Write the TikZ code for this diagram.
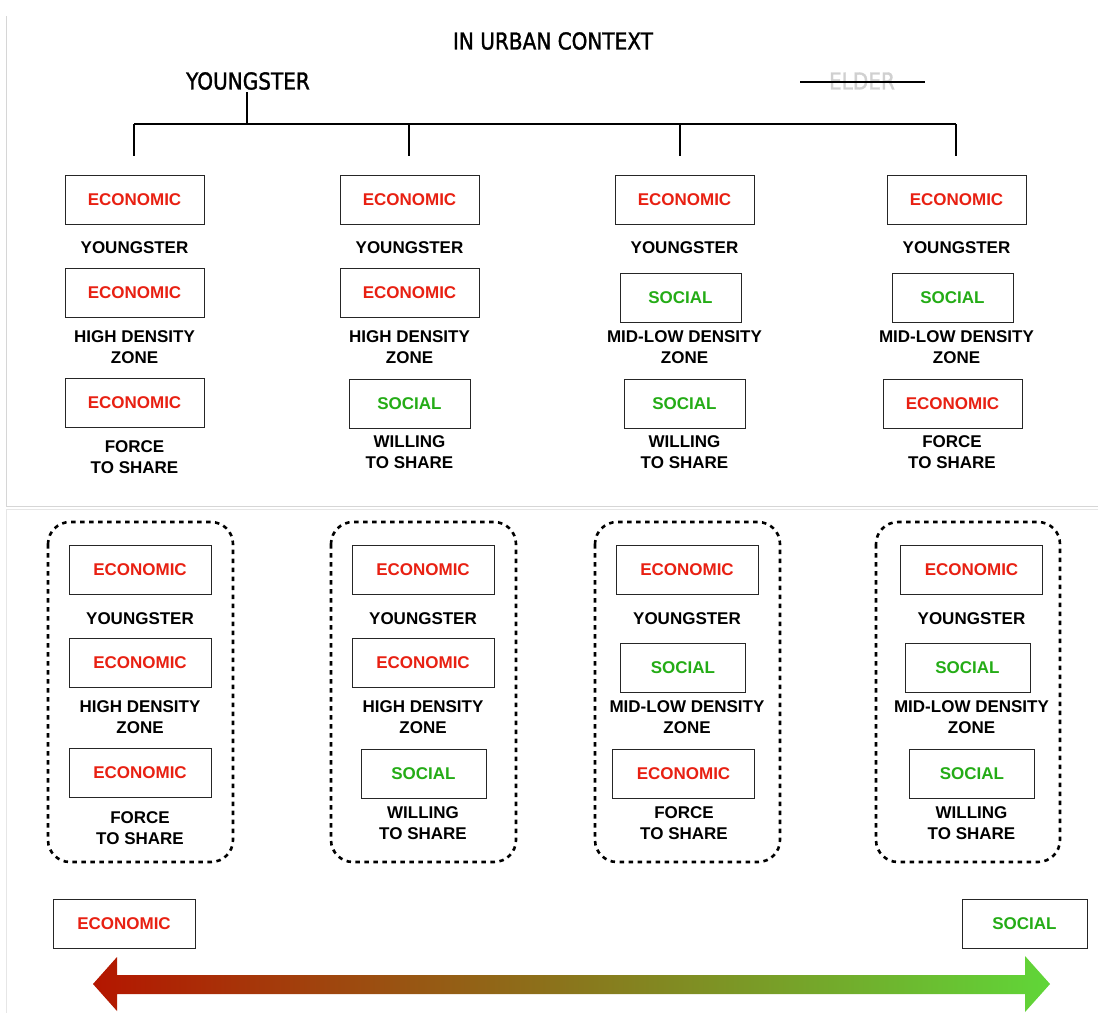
\documentclass[tikz,border=0pt]{standalone}
\usepackage{fontspec}
\setmainfont{Liberation Sans}
\newfontfamily\headfont[FakeStretch=0.86,FakeBold=1.4]{DejaVu Sans}
\usetikzlibrary{calc}
\definecolor{ecored}{RGB}{232,32,18}
\definecolor{socgreen}{RGB}{36,172,22}
\definecolor{panelgray}{RGB}{214,214,214}
\definecolor{eldergray}{RGB}{208,208,208}
\definecolor{arrred}{RGB}{180,22,0}
\definecolor{arrgreen}{RGB}{96,214,56}
\tikzset{
  x=1pt, y=-1pt,
  tag/.style={draw=black!85, line width=1pt, minimum height=49pt, inner sep=0pt,
    font=\bfseries\fontsize{17}{20}\selectfont},
  econ/.style={tag, text=ecored, minimum width=139pt},
  soc/.style={tag, text=socgreen, minimum width=121pt},
  wide/.style={minimum width=#1pt},
  lbl/.style={align=center, inner sep=0pt, font=\bfseries\fontsize{17}{21}\selectfont},
  head/.style={inner sep=0pt, font=\headfont\fontsize{23.3}{25}\selectfont},
  tree/.style={line width=2.6pt},
  group/.style={draw, line width=2.6pt, dash pattern=on 4.5pt off 4.5pt, rounded corners=22pt},
  panel/.style={draw=panelgray, line width=1pt}
}
\begin{document}
\begin{tikzpicture}
\useasboundingbox (0,0) rectangle (1103,1013);
\fill[white] (0,0) rectangle (1103,1013);

% panel frames
\draw[panel] (6,16) -- (6,506) -- (1098,506);
\draw[panel, draw=panelgray!60] (1098,509) -- (6,509) -- (6,1013);

% heading and tree
\node[head] (title) at (553,41) {IN URBAN CONTEXT};
\node[head] (young) at (248,81) {YOUNGSTER};
\node[head, text=eldergray] (elder) at (862,81) {ELDER};
\coordinate (strikeL) at (800,82);
\coordinate (strikeR) at (925,82);
\draw[line width=2pt] (strikeL) -- (strikeR);

\coordinate (root) at (247,124);
\coordinate (j1) at (134,124);
\coordinate (j2) at (409,124);
\coordinate (j3) at (680,124);
\coordinate (j4) at (956,124);
\coordinate (d1) at (134,156);
\coordinate (d2) at (409,156);
\coordinate (d3) at (680,156);
\coordinate (d4) at (956,156);
\draw[tree] (young.south) ++(-1,2) -- (root);
\draw[tree] (j1) -- (j4);
\draw[tree] (j1) -- (d1);
\draw[tree] (j2) -- (d2);
\draw[tree] (j3) -- (d3);
\draw[tree] (j4) -- (d4);

% upper panel, column 1
\node[econ] (a1) at (134.5,199.5) {ECONOMIC};
\node[lbl]  (a1l) at (134.5,248) {YOUNGSTER};
\node[econ] (a2) at (134.5,292.5) {ECONOMIC};
\node[lbl]  (a2l) at (134.5,347.5) {HIGH DENSITY\\ZONE};
\node[econ] (a3) at (134.5,402.5) {ECONOMIC};
\node[lbl]  (a3l) at (134.5,457.5) {FORCE\\TO SHARE};
% upper panel, column 2
\node[econ] (b1) at (409.5,199.5) {ECONOMIC};
\node[lbl]  (b1l) at (409.5,248) {YOUNGSTER};
\node[econ] (b2) at (409.5,292.5) {ECONOMIC};
\node[lbl]  (b2l) at (409.5,347.5) {HIGH DENSITY\\ZONE};
\node[soc]  (b3) at (409.5,403.5) {SOCIAL};
\node[lbl]  (b3l) at (409.5,452.5) {WILLING\\TO SHARE};
% upper panel, column 3
\node[econ] (c1) at (684.5,199.5) {ECONOMIC};
\node[lbl]  (c1l) at (684.5,248) {YOUNGSTER};
\node[soc]  (c2) at (680.5,297.5) {SOCIAL};
\node[lbl]  (c2l) at (684.5,347.5) {MID-LOW DENSITY\\ZONE};
\node[soc]  (c3) at (684.5,403.5) {SOCIAL};
\node[lbl]  (c3l) at (684.5,452.5) {WILLING\\TO SHARE};
% upper panel, column 4
\node[econ] (e1) at (956.5,199.5) {ECONOMIC};
\node[lbl]  (e1l) at (956.5,248) {YOUNGSTER};
\node[soc]  (e2) at (952.5,297.5) {SOCIAL};
\node[lbl]  (e2l) at (956.5,347.5) {MID-LOW DENSITY\\ZONE};
\node[econ] (e3) at (952.5,403.5) {ECONOMIC};
\node[lbl]  (e3l) at (952,452.5) {FORCE\\TO SHARE};

% lower panel, dashed groups
\draw[group] (48,522) rectangle (233,862);
\draw[group] (331,522) rectangle (516,862);
\draw[group] (595,522) rectangle (780,862);
\draw[group] (876,522) rectangle (1060,862);

% lower panel, group 1
\node[econ, wide=142] (p1) at (140,569.5) {ECONOMIC};
\node[lbl]  (p1l) at (140,619) {YOUNGSTER};
\node[econ, wide=142] (p2) at (140,662.5) {ECONOMIC};
\node[lbl]  (p2l) at (140,717.5) {HIGH DENSITY\\ZONE};
\node[econ, wide=142] (p3) at (140,772.5) {ECONOMIC};
\node[lbl]  (p3l) at (140,828.5) {FORCE\\TO SHARE};
% lower panel, group 2
\node[econ, wide=142] (q1) at (423,569.5) {ECONOMIC};
\node[lbl]  (q1l) at (423,619) {YOUNGSTER};
\node[econ, wide=142] (q2) at (423,662.5) {ECONOMIC};
\node[lbl]  (q2l) at (423,717.5) {HIGH DENSITY\\ZONE};
\node[soc, wide=125]  (q3) at (423.5,773.5) {SOCIAL};
\node[lbl]  (q3l) at (423,823.5) {WILLING\\TO SHARE};
% lower panel, group 3
\node[econ, wide=142] (r1) at (687,569.5) {ECONOMIC};
\node[lbl]  (r1l) at (687,619) {YOUNGSTER};
\node[soc, wide=125]  (r2) at (683,667.5) {SOCIAL};
\node[lbl]  (r2l) at (687,717.5) {MID-LOW DENSITY\\ZONE};
\node[econ, wide=142] (r3) at (683.5,773.5) {ECONOMIC};
\node[lbl]  (r3l) at (684,823.5) {FORCE\\TO SHARE};
% lower panel, group 4
\node[econ, wide=142] (s1) at (971.5,569.5) {ECONOMIC};
\node[lbl]  (s1l) at (971.5,619) {YOUNGSTER};
\node[soc, wide=125]  (s2) at (967.5,667.5) {SOCIAL};
\node[lbl]  (s2l) at (971.5,717.5) {MID-LOW DENSITY\\ZONE};
\node[soc, wide=125]  (s3) at (972,773.5) {SOCIAL};
\node[lbl]  (s3l) at (971.5,823.5) {WILLING\\TO SHARE};

% scale ends and gradient double arrow
\node[econ, wide=142] (lend) at (124,923.5) {ECONOMIC};
\node[soc, wide=125]  (rend) at (1024.5,923.5) {SOCIAL};
\shade[left color=arrred, right color=arrgreen]
  (93,984) -- (117,957) -- (117,975) -- (1025,975) -- (1025,956)
  -- (1050,984) -- (1025,1012) -- (1025,994) -- (117,994) -- (117,1011) -- cycle;
\end{tikzpicture}
\end{document}
